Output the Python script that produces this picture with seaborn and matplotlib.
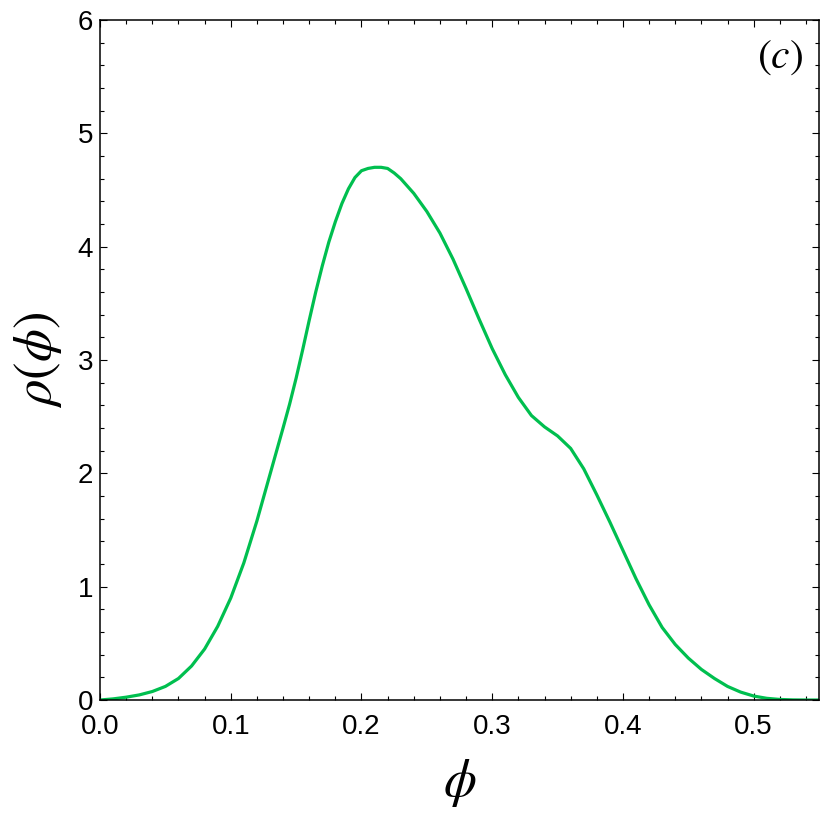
import numpy as np
import pandas as pd
import matplotlib
matplotlib.use("Agg")
import matplotlib.pyplot as plt
from matplotlib.ticker import MultipleLocator, FormatStrFormatter
import seaborn as sns

# -----------------------------
# Данные
# -----------------------------
phi = [0.00, 0.01, 0.02, 0.03, 0.04, 0.05, 0.06, 0.07, 0.08, 0.09,
       0.10, 0.11, 0.12, 0.13, 0.14, 0.145, 0.15, 0.155, 0.16, 0.165,
       0.17, 0.175, 0.18, 0.185, 0.19, 0.195, 0.20, 0.205, 0.21, 0.215,
       0.22, 0.225, 0.23, 0.24, 0.25, 0.26, 0.27, 0.28, 0.29,
       0.30, 0.31, 0.32, 0.33, 0.34, 0.35, 0.36, 0.37, 0.38, 0.39,
       0.40, 0.41, 0.42, 0.43, 0.44, 0.45, 0.46, 0.47, 0.48, 0.49,
       0.50, 0.51, 0.52, 0.53, 0.54, 0.55]
rho = [0.00, 0.01, 0.025, 0.045, 0.075, 0.12, 0.19, 0.30, 0.45, 0.65,
       0.90, 1.21, 1.58, 1.99, 2.40, 2.61, 2.84, 3.09, 3.35, 3.60,
       3.83, 4.04, 4.22, 4.38, 4.51, 4.61, 4.67, 4.69, 4.70, 4.70,
       4.69, 4.65, 4.60, 4.47, 4.31, 4.12, 3.89, 3.63, 3.36,
       3.10, 2.87, 2.67, 2.51, 2.41, 2.33, 2.22, 2.04, 1.81, 1.57,
       1.32, 1.07, 0.84, 0.64, 0.49, 0.37, 0.27, 0.19, 0.12, 0.07,
       0.035, 0.015, 0.005, 0.001, 0.0, 0.0]

X_TICKS = [0.0, 0.1, 0.2, 0.3, 0.4, 0.5]
Y_TICKS = [0, 1, 2, 3, 4, 5, 6]
LINE_COLOR = "#00bf4f"

# -----------------------------
# Стиль
# -----------------------------
sns.set_theme(style="ticks")
plt.rcParams["font.family"] = ["Liberation Sans", "DejaVu Sans"]
plt.rcParams["mathtext.fontset"] = "stix"
plt.rcParams["axes.linewidth"] = 1.1
plt.rcParams["axes.labelcolor"] = "black"
plt.rcParams["text.color"] = "black"

df = pd.DataFrame({"phi": phi, "rho": rho})

fig = plt.figure(figsize=(8.22, 8.22), dpi=100)
ax = fig.add_axes([0.1217, 0.1484, 0.8747, 0.8273])

sns.lineplot(data=df, x="phi", y="rho", color=LINE_COLOR, linewidth=2.3, ax=ax)

ax.set_xlim(0, 0.55)
ax.set_ylim(0, 6)
ax.set_xticks(X_TICKS)
ax.set_yticks(Y_TICKS)
ax.xaxis.set_major_formatter(FormatStrFormatter("%.1f"))
ax.xaxis.set_minor_locator(MultipleLocator(0.02))
ax.yaxis.set_minor_locator(MultipleLocator(0.2))

ax.tick_params(which="both", direction="in", top=True, right=True,
               color="black", width=0.8)
ax.tick_params(which="major", length=5, labelsize=20, labelcolor="black")
ax.tick_params(axis="x", which="major", pad=10)
ax.tick_params(axis="y", which="major", pad=5)
ax.tick_params(which="minor", length=3)
for s in ax.spines.values():
    s.set_color("black")

ax.set_xlabel(r"$\phi$", fontsize=38, labelpad=12)
ax.set_ylabel(r"$\rho(\phi)$", fontsize=38, labelpad=10)

ax.text(0.978, 0.946, r"$(c)$", transform=ax.transAxes,
        ha="right", va="center", fontsize=30)

fig.savefig("out.png", dpi=100)
